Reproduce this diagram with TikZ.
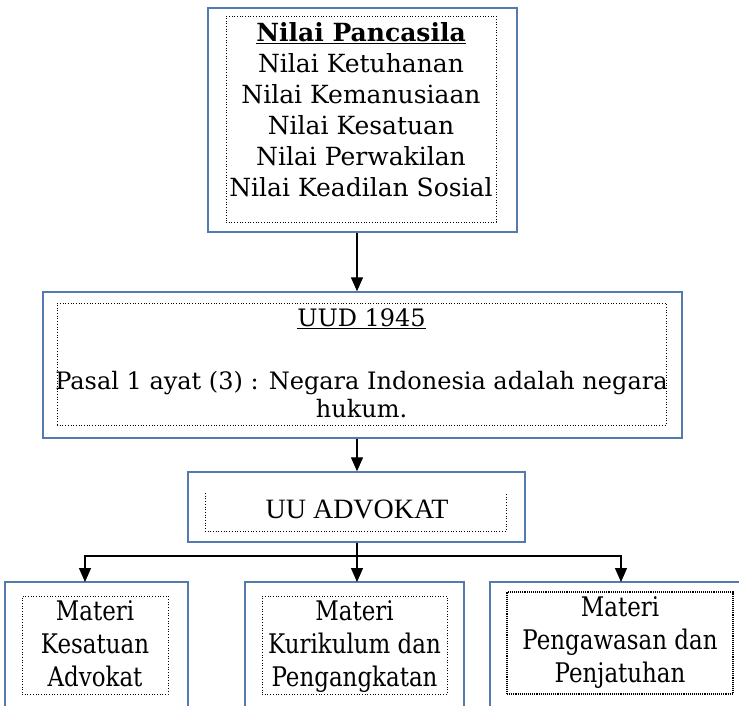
\documentclass[tikz,border=0pt]{standalone}
\usepackage{fontspec}
\setmainfont{DejaVu Serif}
\newfontfamily\condfont[FakeStretch=0.85]{DejaVu Serif}
\newfontfamily\timesfont{Liberation Serif}
\usetikzlibrary{arrows.meta}
\usetikzlibrary{positioning}
\definecolor{boxblue}{RGB}{84,122,176}
\tikzset{
  outerbox/.style={draw=boxblue,line width=1.4pt,inner sep=0pt},
  dotbox/.style={draw,dotted,line width=0.7pt,inner sep=0pt},
  txt/.style={align=center,inner sep=0pt},
  arr/.style={-{Triangle[length=14pt,width=12pt]},line width=1.3pt},
}

\begin{document}
\begin{tikzpicture}[x=1pt,y=-1pt]
\useasboundingbox (0,0) rectangle (739,705);
\clip (0,0) rectangle (739,705);
% pancasila
\node[outerbox,minimum width=309pt,minimum height=224pt] (pcs) at (362.5,120) {};
\node[dotbox,minimum width=270pt,minimum height=206pt] (pcsin) at (361,119) {};
\node[txt,anchor=north,font=\fontsize{25}{31}\selectfont] (pcstxt) at (361,22)
  {\textbf{\underline{Nilai Pancasila}}\\Nilai Ketuhanan\\Nilai Kemanusiaan\\Nilai Kesatuan\\Nilai Perwakilan\\Nilai Keadilan Sosial};
% uud
\node[outerbox,minimum width=639pt,minimum height=146pt] (uud) at (362.5,365) {};
\node[dotbox,minimum width=609pt,minimum height=122pt] (uudin) at (361.5,364) {};
\node[txt,anchor=north,font=\fontsize{24}{28}\selectfont] (uudtxt) at (361.5,308)
  {\underline{UUD 1945}\\[35pt]Pasal 1 ayat (3) : Negara Indonesia adalah negara\\hukum.};
% uu advokat
\node[outerbox,minimum width=337pt,minimum height=70pt] (uu) at (356.5,507) {};
\draw[dotted,line width=0.7pt] (205,493) -- (205,531) -- (506,531) -- (506,493);
\node[txt,font=\timesfont\fontsize{28}{30}\selectfont] (uutxt) at (357,509) {UU ADVOKAT};
% materi
\node[outerbox,minimum width=183pt,minimum height=140pt] (mk1) at (96.5,652) {};
\node[dotbox,minimum width=146pt,minimum height=98pt] (mk1in) at (95,645) {};
\node[txt,anchor=north,font=\condfont\fontsize{27}{33}\selectfont] (mk1txt) at (95,600)
  {Materi\\Kesatuan\\Advokat};
\node[outerbox,minimum width=219pt,minimum height=140pt] (mk2) at (354.5,652) {};
\node[dotbox,minimum width=185pt,minimum height=98pt] (mk2in) at (354.5,645) {};
\node[txt,anchor=north,font=\condfont\fontsize{27}{33}\selectfont] (mk2txt) at (354.5,600)
  {Materi\\Kurikulum dan\\Pengangkatan};
\node[outerbox,minimum width=270pt,minimum height=140pt] (mk3) at (625,652) {};
\node[draw,densely dotted,line width=1.1pt,inner sep=0pt,minimum width=226pt,minimum height=102pt] (mk3in) at (620,643) {};
\node[txt,anchor=north,font=\condfont\fontsize{27}{33}\selectfont] (mk3txt) at (620,596)
  {Materi\\Pengawasan dan\\Penjatuhan};
% arrows
\coordinate (jn) at (357,556);
\coordinate (t1) at (85,582);
\coordinate (t2) at (357,582);
\coordinate (t3) at (621,582);
\draw[arr] (pcs.south -| jn) -- (uud.north -| jn);
\draw[arr] (uud.south -| jn) -- (uu.north -| jn);
\draw[line width=1.3pt] (uu.south -| jn) -- (jn);
\draw[arr] (jn) -| (t1);
\draw[arr] (jn) -- (t2);
\draw[arr] (jn) -| (t3);
\end{tikzpicture}
\end{document}
